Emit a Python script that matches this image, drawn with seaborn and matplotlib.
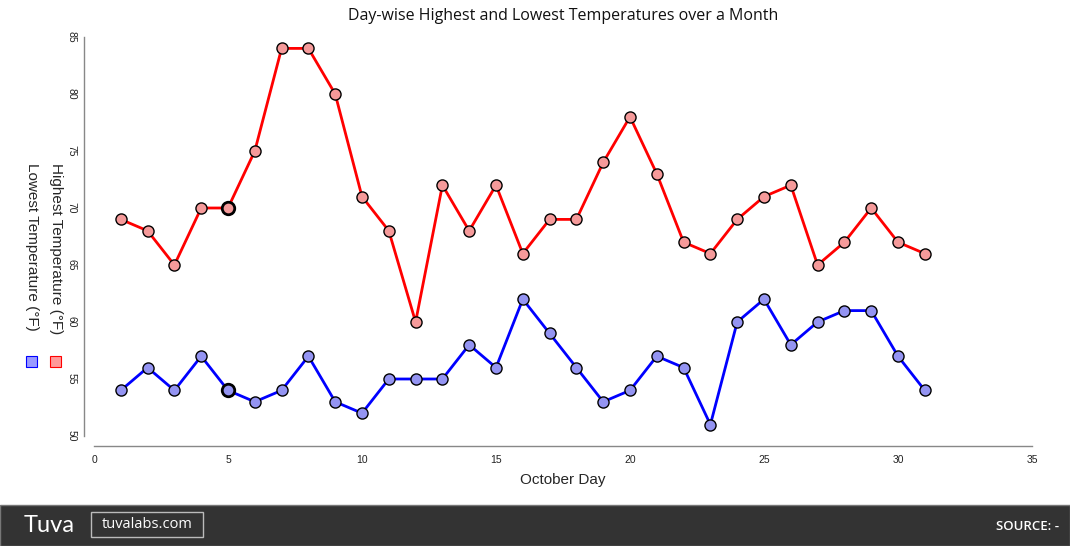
import matplotlib
matplotlib.use("Agg")
import matplotlib.pyplot as plt
from matplotlib.patches import Rectangle
import seaborn as sns
import pandas as pd

# data
days = list(range(1, 32))
highest = [69, 68, 65, 70, 70, 75, 84, 84, 80, 71, 68, 60, 72, 68, 72, 66,
           69, 69, 74, 78, 73, 67, 66, 69, 71, 72, 65, 67, 70, 67, 66]
lowest = [54, 56, 54, 57, 54, 53, 54, 57, 53, 52, 55, 55, 55, 58, 56, 62,
          59, 56, 53, 54, 57, 56, 51, 60, 62, 58, 60, 61, 61, 57, 54]

df = pd.DataFrame({"day": days, "high": highest, "low": lowest})

sns.set_style("white")
plt.rcParams["font.family"] = ["Liberation Sans", "DejaVu Sans"]

fig = plt.figure(figsize=(10.7, 5.46), dpi=100)
ax = fig.add_axes([94 / 1070, 1 - 436 / 546, (1032 - 94) / 1070, (436 - 37) / 546])

sns.lineplot(data=df, x="day", y="high", ax=ax, color="#ff0000", linewidth=2,
             marker="o", markersize=8, markerfacecolor="#f59a9a",
             markeredgecolor="black", markeredgewidth=1)
sns.lineplot(data=df, x="day", y="low", ax=ax, color="#0000ff", linewidth=2,
             marker="o", markersize=8, markerfacecolor="#9494f2",
             markeredgecolor="black", markeredgewidth=1)

# hovered point on day 5
ax.plot([5], [highest[4]], "o", ms=9, mfc="#f59a9a", mec="black", mew=2, zorder=5)
ax.plot([5], [lowest[4]], "o", ms=9, mfc="#9494f2", mec="black", mew=2, zorder=5)

ax.set_xlim(0, 35)
ax.set_ylim(50, 85)
ax.set_xticks(range(0, 36, 5))
ax.set_yticks(range(50, 86, 5))
for s in ["top", "right"]:
    ax.spines[s].set_visible(False)
for s in ["left", "bottom"]:
    ax.spines[s].set_position(("outward", 7.5))
    ax.spines[s].set_color("#888888")
    ax.spines[s].set_linewidth(1)
ax.tick_params(axis="both", direction="inout", length=6, width=1, color="#888888",
               labelsize=7.5, labelcolor="#222222")
ax.tick_params(axis="x", pad=3)
ax.tick_params(axis="y", pad=2)
plt.setp(ax.get_yticklabels(), rotation=-90, va="center")
ax.set_ylabel("")
ax.set_xlabel("October Day", fontsize=11, labelpad=6)

fig.text(563 / 1070, 1 - 16 / 546, "Day-wise Highest and Lowest Temperatures over a Month",
         ha="center", va="center", fontsize=11.5, family=["Open Sans", "DejaVu Sans"],
         color="#111111")

# y label legend
fig.text(56 / 1070, 1 - 163 / 546, "Highest Temperature (°F)", rotation=-90,
         ha="center", va="top", fontsize=11)
fig.text(32 / 1070, 1 - 163 / 546, "Lowest Temperature (°F)", rotation=-90,
         ha="center", va="top", fontsize=11)
fig.patches.append(Rectangle((50 / 1070, 1 - 367 / 546), 11 / 1070, 11 / 546,
                             transform=fig.transFigure, facecolor="#ff9a9a",
                             edgecolor="#ff0000", linewidth=0.8))
fig.patches.append(Rectangle((26 / 1070, 1 - 367 / 546), 11 / 1070, 11 / 546,
                             transform=fig.transFigure, facecolor="#9a9aff",
                             edgecolor="#0000ff", linewidth=0.8))

# footer
fig.patches.append(Rectangle((0, 0), 1, 41 / 546, transform=fig.transFigure,
                             facecolor="#333333", edgecolor="#777777", linewidth=1))
fig.text(24 / 1070, 1 - 525 / 546, "Tuva", color="white", fontsize=17,
         family=["Lato", "DejaVu Sans"], va="center", ha="left")
fig.patches.append(Rectangle((91 / 1070, 1 - 537 / 546), 112 / 1070, 25 / 546,
                             transform=fig.transFigure, facecolor="none",
                             edgecolor="#bbbbbb", linewidth=1))
fig.text(147 / 1070, 1 - 525 / 546, "tuvalabs.com", color="white", fontsize=10.5,
         family=["Open Sans", "DejaVu Sans"], ha="center", va="center")
fig.text(1059 / 1070, 1 - 526 / 546, "SOURCE: -", color="white", fontsize=9.5,
         family=["Open Sans", "DejaVu Sans"], fontweight="semibold", ha="right", va="center")

fig.savefig("out.png", dpi=100)
